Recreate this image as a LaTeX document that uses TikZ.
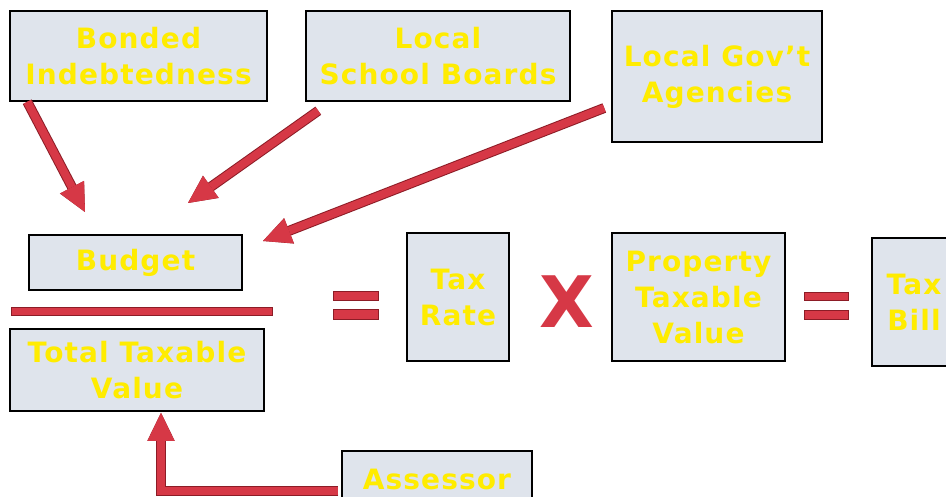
\documentclass[tikz,border=0pt]{standalone}
\usepackage{fontspec}
\newfontfamily\boxfont[LetterSpace=4]{DejaVu Sans}
\newfontfamily\xfont{DejaVu Sans}
\usetikzlibrary{arrows.meta}
\definecolor{boxfill}{RGB}{223,228,236}
\definecolor{boxtext}{RGB}{255,236,0}
\definecolor{arrowred}{RGB}{214,56,70}
\definecolor{arrowdark}{RGB}{140,28,38}
\tikzset{
  box/.style={draw=black, line width=1.5pt, fill=boxfill, inner sep=0pt, align=center,
    text=boxtext, font=\boxfont\bfseries\fontsize{28}{36}\selectfont},
  sz/.style 2 args={minimum width=#1pt, minimum height=#2pt},
  bigarrow/.style={line width=8pt, draw=arrowred, line join=miter,
    -{Triangle[length=28pt,width=27pt,line width=0pt]},
    preaction={draw=arrowdark, line width=10pt, line join=miter,
      -{Triangle[length=28pt,width=27pt,line width=1.5pt]}}},
  bar/.style={draw=arrowdark, line width=0.8pt, fill=arrowred, inner sep=0pt}
}
\begin{document}
\begin{tikzpicture}[x=1pt,y=-1pt]
\useasboundingbox (0,0) rectangle (946,497);
\clip (0,0) rectangle (946,497);
\fill[white] (0,0) rectangle (946,497);

% boxes
\node[box, sz={257}{90}]  (bonded)   at (138.5,56)  {Bonded\\Indebtedness};
\node[box, sz={264}{90}]  (school)   at (438,56)    {Local\\School Boards};
\node[box, sz={210}{131}] (govt)     at (717,76.5)  {Local Gov’t\\Agencies};
\node[box, sz={213}{55}]  (budget)   at (135.5,262.5) {Budget};
\node[box, sz={254}{82}]  (total)    at (137,370)   {Total Taxable\\Value};
\node[box, sz={102}{128}] (rate)     at (458,297)   {Tax\\Rate};
\node[box, sz={173}{128}] (prop)     at (698.5,297) {Property\\Taxable\\Value};
\node[box, sz={84}{128}]  (bill)     at (914,302)   {Tax\\Bill};
\node[box, sz={190}{56}]  (assessor) at (437,479)   {Assessor};

% fraction bar and operators
\node[bar, sz={261}{8}]  (frac) at (141.5,311) {};
\node[bar, sz={45}{9}]   (eqAtop) at (355.5,295.5) {};
\node[bar, sz={45}{10}]  (eqAbot) at (355.5,314) {};
\node[bar, sz={44}{8}]   (eqBtop) at (826,296) {};
\node[bar, sz={44}{9}]   (eqBbot) at (826,314.5) {};
\node[inner sep=0pt, text=arrowred, font=\xfont\bfseries\fontsize{71}{71}\selectfont] (times) at (567,302) {X};

% connectors
\coordinate (t1) at (85,212);
\coordinate (t2) at (188,203);
\coordinate (t3) at (263,241);
\coordinate (s2) at ([xshift=13pt,yshift=-9pt]school.south west);
\coordinate (s3) at ([xshift=-7pt,yshift=-31.5pt]govt.west);
\coordinate (s4) at ([xshift=-3pt,yshift=-12pt]assessor.west);
\coordinate (t4) at ([xshift=24pt,yshift=-1pt]total.south);

\draw[bigarrow] ([xshift=18pt]bonded.south west) -- (t1);
\draw[bigarrow] (s2) -- (t2);
\draw[bigarrow] (s3) -- (t3);
\draw[bigarrow] (s4) -| (t4);
\end{tikzpicture}
\end{document}
